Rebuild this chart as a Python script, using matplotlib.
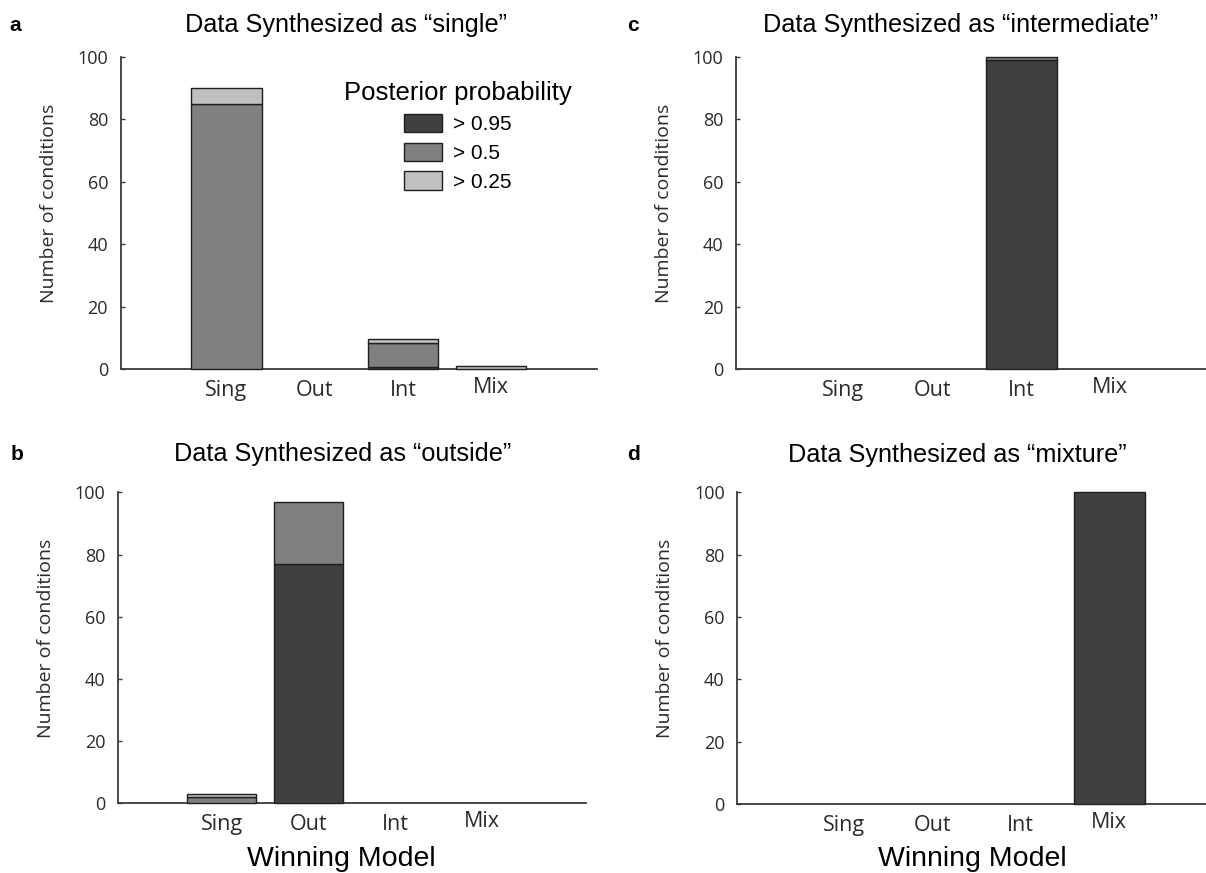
import numpy as np
import matplotlib
matplotlib.use("Agg")
import matplotlib.pyplot as plt
from matplotlib.patches import Patch
from matplotlib.transforms import ScaledTranslation

models = ["Sing", "Out", "Int", "Mix"]
prob_labels = ["> 0.95", "> 0.5", "> 0.25"]

# counts per winning model, split by posterior probability
single_p95 = [0, 0, 0.5, 0]
single_p50 = [85, 0, 7.7, 0]
single_p25 = [5, 0, 1.3, 1]

outside_p95 = [0, 77, 0, 0]
outside_p50 = [2, 20, 0, 0]
outside_p25 = [1, 0, 0, 0]

inter_p95 = [0, 0, 99, 0]
inter_p50 = [0, 0, 1, 0]
inter_p25 = [0, 0, 0, 0]

mix_p95 = [0, 0, 0, 100]
mix_p50 = [0, 0, 0, 0]
mix_p25 = [0, 0, 0, 0]

titles = ["Data Synthesized as \u201csingle\u201d", "Data Synthesized as \u201coutside\u201d",
          "Data Synthesized as \u201cintermediate\u201d", "Data Synthesized as \u201cmixture\u201d"]
letters = ["a", "b", "c", "d"]

colors = ["#404040", "#808080", "#c0c0c0"]
edge = "#1e1e1e"

W, H = 1206, 873
fig = plt.figure(figsize=(W / 100, H / 100), dpi=100)


def px_axes(left, top, right, bottom):
    return fig.add_axes([left / W, 1 - bottom / H, (right - left) / W, (bottom - top) / H])


axes = [px_axes(120.6, 57, 597, 369),
        px_axes(117.9, 492.3, 585.5, 803.3),
        px_axes(736.1, 57, 1217.1, 369),
        px_axes(737.2, 492.3, 1215.6, 804)]

data = [(single_p95, single_p50, single_p25),
        (outside_p95, outside_p50, outside_p25),
        (inter_p95, inter_p50, inter_p25),
        (mix_p95, mix_p50, mix_p25)]

x = np.arange(1, len(models) + 1)
for ax, (p95, p50, p25) in zip(axes, data):
    p95 = np.array(p95, dtype=float)
    p50 = np.array(p50, dtype=float)
    p25 = np.array(p25, dtype=float)
    b1 = ax.bar(x, p95, width=0.8, color=colors[0], edgecolor=edge, linewidth=1.0, clip_on=False, zorder=3)
    b2 = ax.bar(x, p50, width=0.8, bottom=p95, color=colors[1], edgecolor=edge, linewidth=1.0, clip_on=False, zorder=3)
    b3 = ax.bar(x, p25, width=0.8, bottom=p95 + p50, color=colors[2], edgecolor=edge, linewidth=1.0, clip_on=False, zorder=3)
    # empty segments should not leave an outline on the axis
    for cont in (b1, b2, b3):
        for p in cont.patches:
            if p.get_height() == 0:
                p.set_visible(False)

    ax.set_xlim(-0.2, 5.2)
    ax.set_ylim(0, 100)
    ax.spines["top"].set_visible(False)
    ax.spines["right"].set_visible(False)
    for s in ["left", "bottom"]:
        ax.spines[s].set_color("#3a3a3a")
        ax.spines[s].set_linewidth(1.3)
    ax.set_yticks([0, 20, 40, 60, 80, 100])
    ax.set_xticks(x)
    ax.set_xticklabels(models)
    ax.tick_params(axis="y", direction="in", length=3, width=1, color="#3a3a3a", pad=9,
                   labelsize=13, labelcolor="#2a2a2a")
    ax.tick_params(axis="x", length=0, pad=8, labelsize=15.5, labelcolor="#2a2a2a")
    for lbl in ax.get_yticklabels() + ax.get_xticklabels():
        lbl.set_fontfamily("Open Sans")
    # Mix label sits a little higher in the original
    mix_lbl = ax.get_xticklabels()[3]
    mix_lbl.set_transform(mix_lbl.get_transform() + ScaledTranslation(0, 3 / 100, fig.dpi_scale_trans))

    ax.set_ylabel("Number of conditions", fontsize=14, family="Open Sans", color="#2a2a2a", va="center")
    w_px = ax.get_position().width * W
    ax.yaxis.set_label_coords(-72 / w_px, 0.53)

# titles, panel letters, x labels (figure pixel positions)
title_pos = [(346.3, 31.7), (342.5, 460.7), (960.5, 31.7), (957.6, 461.7)]
letter_pos = [(9.5, 31), (11, 460), (627, 31), (627, 460)]
for t, (tx, ty), l, (lx, ly) in zip(titles, title_pos, letters, letter_pos):
    fig.text(tx / W, 1 - ty / H, t, ha="center", va="baseline", fontsize=18.2, family="Liberation Sans")
    fig.text(lx / W, 1 - ly / H, l, ha="left", va="baseline", fontsize=15, fontweight="bold", family="Liberation Sans")

for cx in [341.5, 972]:
    fig.text(cx / W, 1 - 866 / H, "Winning Model", ha="center", va="baseline", fontsize=20.5, family="Liberation Sans")

handles = [Patch(facecolor=c, edgecolor=edge, linewidth=1.0) for c in colors]
leg = axes[0].legend(handles, prob_labels, title="Posterior probability", loc="upper center",
                     bbox_to_anchor=(458 / W, 1 - 71 / H), bbox_transform=fig.transFigure,
                     frameon=False, borderpad=0, fontsize=15, title_fontsize=18.5,
                     handlelength=1.8, handleheight=1.0, handletextpad=0.55, labelspacing=0.4)
for t in leg.get_texts():
    t.set_family("Liberation Sans")
leg.get_title().set_family("Liberation Sans")

fig.savefig("out.png", dpi=100)
